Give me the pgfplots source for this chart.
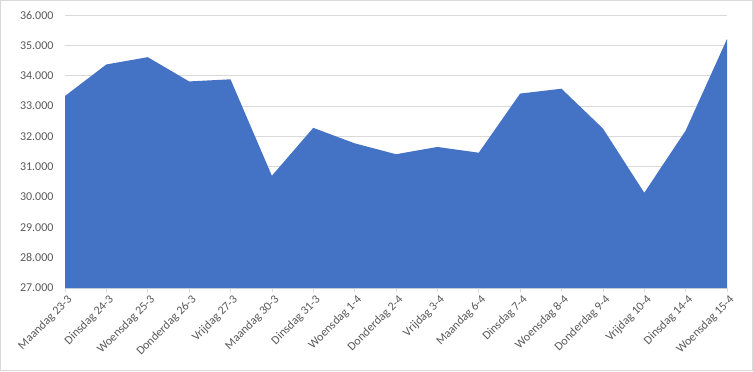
\documentclass[border=0pt]{standalone}
\usepackage{pgfplots}
\pgfplotsset{compat=1.18}
\usepackage{fontspec}
\setmainfont{Carlito}
\definecolor{xlblue}{HTML}{4472C4}
\definecolor{gridc}{HTML}{D9D9D9}
\definecolor{txt}{HTML}{595959}
\begin{document}
\begin{tikzpicture}[x=1bp,y=1bp]
\draw[draw=gridc, line width=1bp] (0.5,0.5) rectangle (752.5,370.5);
\begin{axis}[
  at={(65bp,83bp)}, anchor=south west,
  scale only axis, width=662bp, height=273bp,
  xmin=0, xmax=16, ymin=27000, ymax=36000,
  ytick={27000,28000,...,36000},
  scaled y ticks=false,
  xtick={0,...,16},
  xticklabels={Maandag 23-3,Dinsdag 24-3,Woensdag 25-3,Donderdag 26-3,Vrijdag 27-3,Maandag 30-3,Dinsdag 31-3,Woensdag 1-4,Donderdag 2-4,Vrijdag 3-4,Maandag 6-4,Dinsdag 7-4,Woensdag 8-4,Donderdag 9-4,Vrijdag 10-4,Dinsdag 14-4,Woensdag 15-4},
  ymajorgrids, grid style={gridc, line width=1bp},
  axis x line*=bottom,
  x axis line style={draw=gridc, line width=1bp},
  y axis line style={draw=none},
  ytick style={draw=none},
  xtick style={draw=gridc, line width=0.75bp},
  tick align=outside, major tick length=4bp,
  /pgf/number format/.cd, 1000 sep={.}, assume math mode=true,
  /pgfplots/.cd,
  ticklabel style={font=\fontsize{12bp}{14bp}\selectfont, text=txt},
  yticklabel style={xshift=-4bp},
  xticklabel style={rotate=45, anchor=east, xshift=3bp, yshift=-8bp},
]
\addplot[fill=xlblue, draw=none] coordinates {
(0,27000) (0,33330) (1,34370) (2,34610) (3,33810) (4,33880) (5,30700) (6,32280) (7,31770) (8,31410) (9,31650) (10,31460) (11,33410) (12,33570) (13,32260) (14,30140) (15,32190) (16,35210) (16,27000)
};
\end{axis}
\end{tikzpicture}
\end{document}
